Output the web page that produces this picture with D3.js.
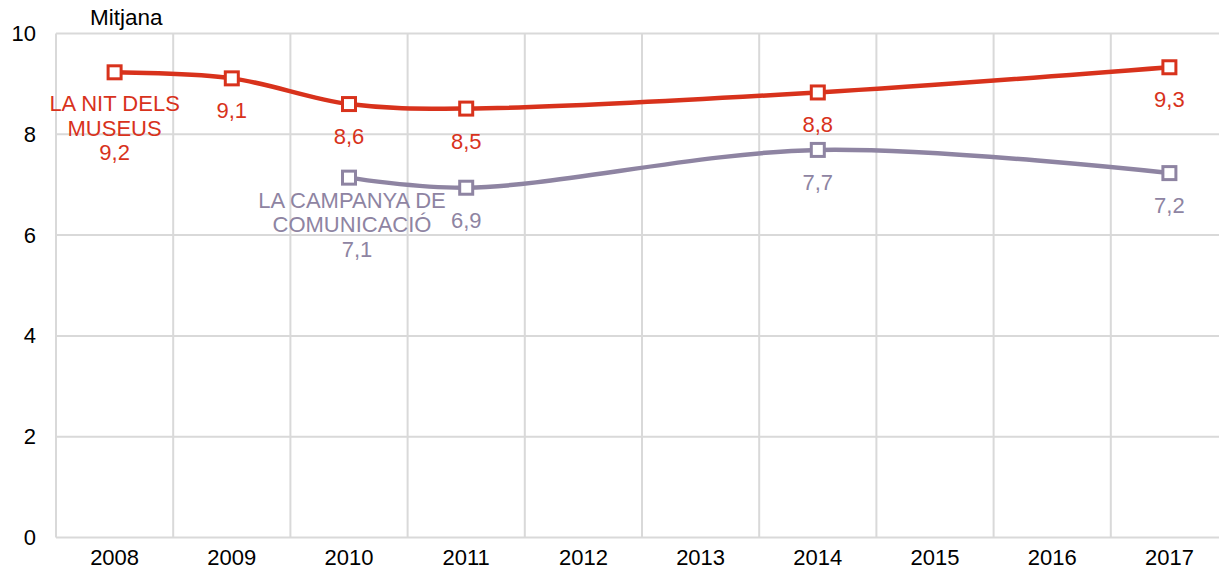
<!DOCTYPE html>
<html>
<head>
<meta charset="utf-8">
<script src="https://cdn.jsdelivr.net/npm/d3@7.9.0/dist/d3.min.js"></script>
<style>
  html, body { margin: 0; padding: 0; background: #fff; }
  svg { display: block; font-family: "Liberation Sans", Arial, sans-serif; }
</style>
</head>
<body>
<svg id="chart" width="1219" height="574"></svg>
<script>
// --- data
const years = ['2008', '2009', '2010', '2011', '2012', '2013', '2014', '2015', '2016', '2017'];
const yTicks = [0, 2, 4, 6, 8, 10];

const nitYears = ['2008', '2009', '2010', '2011', '2014', '2017'];
const nitValues = [9.23, 9.11, 8.60, 8.51, 8.83, 9.33];

const campYears = ['2010', '2011', '2014', '2017'];
const campValues = [7.14, 6.94, 7.69, 7.23];

const series = [
  { name: ['LA NIT DELS', 'MUSEUS'], color: '#d8321c', years: nitYears, values: nitValues },
  { name: ['LA CAMPANYA DE', 'COMUNICACIÓ'], color: '#8e84a2', years: campYears, values: campValues }
];

// --- layout
const svg = d3.select('#chart');
const plotLeft = 56, plotTop = 33.5, plotBottom = 537.5;
const bandW = 117.2;
const fs = 22;

const x = d3.scaleBand().domain(years).range([plotLeft, plotLeft + bandW * years.length]);
const y = d3.scaleLinear().domain([0, 10]).range([plotBottom, plotTop]);
const fmt = v => d3.format('.1f')(v).replace('.', ',');

// grid
const grid = svg.append('g').attr('stroke', '#d9d9d9').attr('stroke-width', 2);
grid.selectAll('line.h')
  .data(yTicks)
  .join('line')
  .attr('class', 'h')
  .attr('x1', plotLeft).attr('x2', 1219)
  .attr('y1', d => y(d)).attr('y2', d => y(d));
grid.selectAll('line.v')
  .data(years)
  .join('line')
  .attr('class', 'v')
  .attr('x1', d => x(d)).attr('x2', d => x(d))
  .attr('y1', plotTop).attr('y2', plotBottom);

// axes (labels only)
const yAxis = svg.append('g')
  .attr('transform', `translate(${plotLeft - 20},0)`)
  .call(d3.axisLeft(y).tickValues(yTicks).tickSize(0).tickPadding(0));
yAxis.select('.domain').remove();
yAxis.selectAll('text').attr('font-size', fs).attr('fill', '#000');
yAxis.attr('font-family', null);

const xAxis = svg.append('g')
  .attr('transform', `translate(0,${plotBottom + 12})`)
  .call(d3.axisBottom(x).tickSize(0).tickPadding(0));
xAxis.select('.domain').remove();
xAxis.selectAll('text').attr('font-size', fs).attr('fill', '#000');
xAxis.attr('font-family', null);

svg.append('text')
  .attr('x', 90).attr('y', 25)
  .attr('font-size', 22.5)
  .text('Mitjana');

// lines
const line = d3.line()
  .x(d => x(d.year) + x.bandwidth() / 2)
  .y(d => y(d.value))
  .curve(d3.curveCatmullRom.alpha(0.5));

series.forEach((s, si) => {
  const pts = s.years.map((yr, i) => ({ year: yr, value: s.values[i] }));
  const g = svg.append('g');

  g.append('path')
    .datum(pts)
    .attr('d', line)
    .attr('fill', 'none')
    .attr('stroke', s.color)
    .attr('stroke-width', 4.5)
    .attr('stroke-linejoin', 'round');

  g.selectAll('rect')
    .data(pts)
    .join('rect')
    .attr('x', d => x(d.year) + x.bandwidth() / 2 - 6.5)
    .attr('y', d => y(d.value) - 6.5)
    .attr('width', 13).attr('height', 13)
    .attr('fill', '#fff')
    .attr('stroke', s.color)
    .attr('stroke-width', 3);

  // value labels (first point carries the series name above its value)
  g.selectAll('text.val')
    .data(pts)
    .join('text')
    .attr('class', 'val')
    .attr('text-anchor', 'middle')
    .attr('font-size', fs)
    .attr('fill', s.color)
    .attr('x', d => x(d.year) + x.bandwidth() / 2 + (si === 1 && d === pts[0] ? 8 : 0))
    .attr('y', (d, i) => y(d.value) + (i === 0 ? (si === 0 ? 88 : 79) : 40))
    .text(d => fmt(d.value));

  const first = pts[0];
  g.append('text')
    .attr('text-anchor', 'middle')
    .attr('font-size', fs)
    .attr('fill', s.color)
    .selectAll('tspan')
    .data(s.name)
    .join('tspan')
    .attr('x', x(first.year) + x.bandwidth() / 2 + (si === 0 ? 0 : 3))
    .attr('y', (d, i) => y(first.value) + (si === 0 ? 39 : 30) + i * 24.5)
    .text(d => d);
});
</script>
</body>
</html>
